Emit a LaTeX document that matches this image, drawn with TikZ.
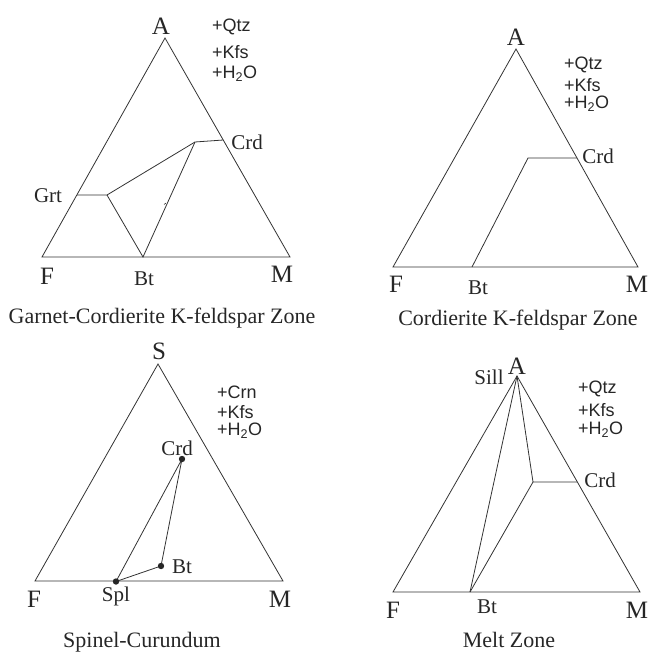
\documentclass[tikz,border=0pt]{standalone}
\usepackage{fontspec}
\setmainfont{Liberation Serif}
\newfontfamily\sansf{Liberation Sans}
\begin{document}
\begin{tikzpicture}[x=1pt,y=-1pt,
  ln/.style={line width=0.8pt, draw=black!80, line join=miter},
  corner/.style={font=\fontsize{25}{30}\selectfont, inner sep=0pt, text=black!85},
  lab/.style={font=\fontsize{21}{25}\selectfont, inner sep=0pt, text=black!85},
  capt/.style={font=\fontsize{22}{26}\selectfont, inner sep=0pt, anchor=base, text=black!85},
  add/.style={font=\sansf\fontsize{18}{21}\selectfont, inner sep=0pt, anchor=west, text=black!85},
  dotf/.style={fill=black!85}]
\useasboundingbox (0,0) rectangle (649,653);

% ---------- Panel 1: Garnet-Cordierite K-feldspar Zone
\coordinate (a1) at (165,38);
\coordinate (f1) at (42,257);
\coordinate (m1) at (290,257);
\coordinate (crd1) at (223.2,140);
\coordinate (p1) at (195,142);
\coordinate (grt1) at (77,195);
\coordinate (q1) at (107,195);
\coordinate (bt1) at (143,257);
\coordinate (tk1a) at (164,204.5);
\coordinate (tk1b) at (166,203);
\draw[ln] (a1) -- (f1) -- (m1) -- cycle;
\draw[ln] (grt1) -- (q1) -- (p1) -- (crd1);
\draw[ln] (q1) -- (bt1) -- (p1);
\draw[ln, line width=0.6pt] (tk1a) -- (tk1b);
\node[corner] (lA1) at (161,26) {A};
\node[lab] (lCrd1) at (247,142) {Crd};
\node[lab] (lGrt1) at (48,196) {Grt};
\node[corner] (lF1) at (47,276) {F};
\node[lab] (lBt1) at (144,279) {Bt};
\node[corner] (lM1) at (282,274) {M};
\node[add] (x1a) at (212,27) {+Qtz};
\node[add] (x1b) at (212,52) {+Kfs};
\node[add] (x1c) at (212,74) {+H\textsubscript{2}O};
\node[capt] (cap1) at (162,323) {Garnet-Cordierite K-feldspar Zone};

% ---------- Panel 2: Cordierite K-feldspar Zone
\coordinate (a2) at (516,49);
\coordinate (f2) at (393,267);
\coordinate (m2) at (638,267);
\coordinate (crd2) at (577,158);
\coordinate (p2) at (528,158);
\coordinate (bt2) at (472,267);
\draw[ln] (a2) -- (f2) -- (m2) -- cycle;
\draw[ln] (crd2) -- (p2) -- (bt2);
\node[corner] (lA2) at (516,37) {A};
\node[lab] (lCrd2) at (598,156) {Crd};
\node[corner] (lF2) at (396,284) {F};
\node[lab] (lBt2) at (478,288) {Bt};
\node[corner] (lM2) at (637,284) {M};
\node[add] (x2a) at (564,65) {+Qtz};
\node[add] (x2b) at (564,85) {+Kfs};
\node[add] (x2c) at (564,104) {+H\textsubscript{2}O};
\node[capt] (cap2) at (518,325) {Cordierite K-feldspar Zone};

% ---------- Panel 3: Spinel-Curundum
\coordinate (s3) at (158,364);
\coordinate (f3) at (35,581);
\coordinate (m3) at (283,581);
\coordinate (crd3) at (182,459);
\coordinate (bt3) at (161,566);
\coordinate (spl3) at (116,581.5);
\draw[ln] (s3) -- (f3) -- (m3) -- cycle;
\draw[ln] (spl3) -- (crd3) -- (bt3) -- cycle;
\fill[dotf] (crd3) circle (3.2);
\fill[dotf] (bt3) circle (3.2);
\fill[dotf] (spl3) circle (3.2);
\node[corner] (lS3) at (159,351) {S};
\node[lab] (lCrd3) at (177,448) {Crd};
\node[lab] (lBt3) at (182,567) {Bt};
\node[lab] (lSpl3) at (116,596) {Spl};
\node[corner] (lF3) at (34,599) {F};
\node[corner] (lM3) at (280,599) {M};
\node[add] (x3a) at (217,392) {+Crn};
\node[add] (x3b) at (217,412) {+Kfs};
\node[add] (x3c) at (217,431) {+H\textsubscript{2}O};
\node[capt] (cap3) at (142,647) {Spinel-Curundum};

% ---------- Panel 4: Melt Zone
\coordinate (a4) at (517,376);
\coordinate (f4) at (393,592);
\coordinate (m4) at (640,592);
\coordinate (bt4) at (470,592);
\coordinate (p4) at (533,482);
\coordinate (crd4) at (577,482);
\draw[ln] (a4) -- (f4) -- (m4) -- cycle;
\draw[ln] (a4) -- (bt4);
\draw[ln] (a4) -- (p4) -- (crd4);
\draw[ln] (p4) -- (bt4);
\node[corner] (lA4) at (517,366) {A};
\node[lab] (lSill4) at (489,377) {Sill};
\node[lab] (lCrd4) at (600,480) {Crd};
\node[corner] (lF4) at (393,610) {F};
\node[lab] (lBt4) at (487,607) {Bt};
\node[corner] (lM4) at (637,610) {M};
\node[add] (x4a) at (578,389) {+Qtz};
\node[add] (x4b) at (578,410) {+Kfs};
\node[add] (x4c) at (578,430) {+H\textsubscript{2}O};
\node[capt] (cap4) at (509,647) {Melt Zone};
\end{tikzpicture}
\end{document}
